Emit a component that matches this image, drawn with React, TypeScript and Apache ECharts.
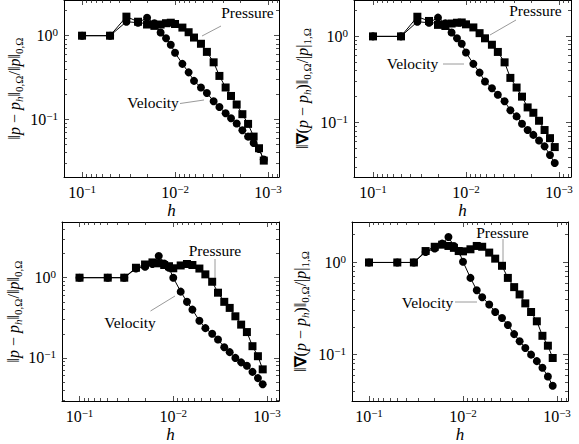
import React, { useEffect, useRef } from "react";
import * as echarts from "echarts";

// mesh size h (= 1/N)
const hValues = [0.1, 0.05, 0.03333, 0.025, 0.02, 0.01667, 0.01429, 0.0125, 0.01111, 0.01, 0.008333, 0.007143, 0.00625, 0.005263, 0.004545, 0.003846, 0.003333, 0.002857, 0.0025, 0.002174, 0.001887, 0.001639, 0.001429, 0.00125, 0.001111];

// top-left: ||p - p_h||_0 / ||p||_0
const tlVelocity = [1.0, 1.0, 1.47, 1.43, 1.64, 1.41, 1.09, 0.93, 0.78, 0.625, 0.46, 0.364, 0.288, 0.24, 0.206, 0.164, 0.14, 0.118, 0.103, 0.089, 0.074, 0.062, 0.052, 0.044, 0.033];
const tlPressure = [1.0, 1.0, 1.69, 1.47, 1.36, 1.31, 1.36, 1.41, 1.43, 1.38, 1.25, 1.1, 0.95, 0.8, 0.64, 0.48, 0.33, 0.24, 0.19, 0.15, 0.115, 0.088, 0.062, 0.045, 0.032];
// top-right: ||grad(p - p_h)||_0 / |p|_1
const trVelocity = [1.0, 1.0, 1.48, 1.44, 1.65, 1.42, 1.11, 0.95, 0.82, 0.65, 0.48, 0.38, 0.3, 0.25, 0.21, 0.177, 0.139, 0.118, 0.097, 0.082, 0.072, 0.062, 0.053, 0.042, 0.034];
const trPressure = [1.0, 1.0, 1.69, 1.51, 1.36, 1.32, 1.41, 1.44, 1.45, 1.38, 1.27, 1.09, 0.95, 0.8, 0.66, 0.5, 0.33, 0.255, 0.2, 0.15, 0.13, 0.105, 0.082, 0.066, 0.052];
// bottom-left
const blVelocity = [1.0, 1.0, 1.0, 1.3, 1.37, 1.48, 1.86, 1.5, 1.33, 1.0, 0.67, 0.5, 0.4, 0.29, 0.235, 0.2, 0.17, 0.136, 0.118, 0.1, 0.088, 0.08, 0.067, 0.056, 0.047];
const blPressure = [1.0, 1.0, 1.0, 1.33, 1.46, 1.55, 1.51, 1.44, 1.39, 1.31, 1.42, 1.48, 1.44, 1.3, 1.1, 0.89, 0.65, 0.5, 0.42, 0.33, 0.26, 0.21, 0.14, 0.105, 0.072];
// bottom-right
const brVelocity = [1.0, 1.0, 1.0, 1.3, 1.42, 1.6, 1.89, 1.51, 1.33, 1.02, 0.68, 0.5, 0.42, 0.35, 0.29, 0.25, 0.21, 0.167, 0.14, 0.118, 0.1, 0.085, 0.072, 0.058, 0.046];
const brPressure = [1.0, 1.0, 1.0, 1.33, 1.48, 1.56, 1.51, 1.44, 1.33, 1.32, 1.39, 1.51, 1.48, 1.28, 1.1, 0.92, 0.68, 0.54, 0.45, 0.36, 0.29, 0.23, 0.16, 0.125, 0.092];

const xTickExponents = [-1, -2, -3];
const yTickExponents = [-2, -1, 0];

const SERIF = "Liberation Serif";

const yNameL = "{n|‖}{i|p}{n| − }{i|p}{subi|h}{n|‖}{sub|0,Ω}{n|/‖}{i|p}{n|‖}{sub|0,Ω}";
const yNameR = "{n|‖}{b|∇}{n|(}{i|p}{n| − }{i|p}{subi|h}{n|)‖}{sub|0,Ω}{n|/|}{i|p}{n||}{sub|1,Ω}";

const panels = [
  { grid: { left: 64, top: -3, width: 215, height: 180 }, x: [-3.118, -0.806], y: [-1.691, 0.427], vel: tlVelocity, pre: tlPressure, name: yNameL, nameGap: 40 },
  { grid: { left: 354, top: -3, width: 217, height: 180 }, x: [-3.129, -0.796], y: [-1.631, 0.422], vel: trVelocity, pre: trPressure, name: yNameR, nameGap: 42 },
  { grid: { left: 62, top: 222, width: 217, height: 180 }, x: [-3.128, -0.813], y: [-1.537, 0.694], vel: blVelocity, pre: blPressure, name: yNameL, nameGap: 39 },
  { grid: { left: 352, top: 222, width: 216, height: 180 }, x: [-3.117, -0.819], y: [-1.503, 0.439], vel: brVelocity, pre: brPressure, name: yNameR, nameGap: 42 },
];

function minorTicks(lo: number, hi: number) {
  const out: number[] = [];
  for (let d = -5; d <= 2; d++) {
    for (let k = 2; k <= 9; k++) {
      const v = d + Math.log10(k);
      if (v > lo && v < hi) out.push(v);
    }
  }
  return out;
}

const tickLine = { color: "#222", width: 0.8 };
const labelRich = {
  b: { fontFamily: SERIF, fontSize: 16, color: "#000", lineHeight: 18 },
  s: { fontFamily: SERIF, fontSize: 11, color: "#000", lineHeight: 11, verticalAlign: "top" as const },
};
const powLabel = (v: number) => {
  const e = Math.round(v);
  return `{b|10}{s|${e < 0 ? "−" + -e : e}}`;
};
const nameRich = {
  n: { fontFamily: SERIF, fontSize: 16, color: "#000", lineHeight: 20 },
  i: { fontFamily: SERIF, fontSize: 16, fontStyle: "italic" as const, color: "#000", lineHeight: 20 },
  b: { fontFamily: SERIF, fontSize: 16, fontWeight: "bold" as const, color: "#000", lineHeight: 20 },
  sub: { fontFamily: SERIF, fontSize: 11, color: "#000", lineHeight: 11, verticalAlign: "bottom" as const },
  subi: { fontFamily: SERIF, fontSize: 11, fontStyle: "italic" as const, color: "#000", lineHeight: 11, verticalAlign: "bottom" as const },
};

function buildOption() {
  const grid: any[] = [];
  const xAxis: any[] = [];
  const yAxis: any[] = [];
  const series: any[] = [];
  panels.forEach((p, gi) => {
    grid.push({ ...p.grid, containLabel: false });
    const xMin = minorTicks(p.x[0], p.x[1]);
    const yMin = minorTicks(p.y[0], p.y[1]);
    const xBase = { type: "value", gridIndex: gi, min: p.x[0], max: p.x[1], inverse: true, splitLine: { show: false } };
    const yBase = { type: "value", gridIndex: gi, min: p.y[0], max: p.y[1], splitLine: { show: false } };
    xAxis.push({
      ...xBase, position: "bottom",
      axisLine: { show: true, onZero: false, lineStyle: { color: "#000", width: 1 } },
      axisTick: { show: true, inside: true, length: 5, customValues: xTickExponents, lineStyle: tickLine },
      axisLabel: { show: true, customValues: xTickExponents, formatter: powLabel, rich: labelRich, margin: 6, fontFamily: SERIF },
      name: "h", nameLocation: "middle", nameGap: 25,
      nameTextStyle: { fontFamily: SERIF, fontSize: 17, fontStyle: "italic", color: "#000" },
    });
    xAxis.push({
      ...xBase, position: "bottom",
      axisLine: { show: false, onZero: false },
      axisTick: { show: true, inside: true, length: 3, customValues: xMin, lineStyle: tickLine },
      axisLabel: { show: false },
    });
    xAxis.push({
      ...xBase, position: "top",
      axisLine: { show: true, onZero: false, lineStyle: { color: "#000", width: 1 } },
      axisTick: { show: true, inside: true, length: 5, customValues: xTickExponents, lineStyle: tickLine },
      axisLabel: { show: false },
    });
    xAxis.push({
      ...xBase, position: "top",
      axisLine: { show: false, onZero: false },
      axisTick: { show: true, inside: true, length: 3, customValues: xMin, lineStyle: tickLine },
      axisLabel: { show: false },
    });
    yAxis.push({
      ...yBase, position: "left",
      axisLine: { show: true, onZero: false, lineStyle: { color: "#000", width: 1 } },
      axisTick: { show: true, inside: true, length: 5, customValues: yTickExponents, lineStyle: tickLine },
      axisLabel: { show: true, customValues: yTickExponents, formatter: powLabel, rich: labelRich, margin: 6, fontFamily: SERIF },
      name: p.name, nameLocation: "middle", nameGap: p.nameGap, nameRotate: 90,
      nameTextStyle: { fontFamily: SERIF, rich: nameRich },
    });
    yAxis.push({
      ...yBase, position: "left",
      axisLine: { show: false, onZero: false },
      axisTick: { show: true, inside: true, length: 3, customValues: yMin, lineStyle: tickLine },
      axisLabel: { show: false },
    });
    yAxis.push({
      ...yBase, position: "right",
      axisLine: { show: true, onZero: false, lineStyle: { color: "#000", width: 1 } },
      axisTick: { show: true, inside: true, length: 5, customValues: yTickExponents, lineStyle: tickLine },
      axisLabel: { show: false },
    });
    yAxis.push({
      ...yBase, position: "right",
      axisLine: { show: false, onZero: false },
      axisTick: { show: true, inside: true, length: 3, customValues: yMin, lineStyle: tickLine },
      axisLabel: { show: false },
    });
    const mk = (vals: number[], symbol: string, size: number, name: string) => ({
      type: "line", name, xAxisIndex: gi * 4, yAxisIndex: gi * 4,
      data: hValues.map((h, k) => [Math.log10(h), Math.log10(vals[k])]),
      symbol, symbolSize: size, showSymbol: true,
      lineStyle: { color: "#000", width: 1 },
      itemStyle: { color: "#000" },
      clip: false,
    });
    series.push(mk(p.vel, "circle", 8, "Velocity"));
    series.push(mk(p.pre, "rect", 8, "Pressure"));
  });

  const txt = (x: number, y: number, s: string) => ({
    type: "text", x, y,
    style: { text: s, fontFamily: SERIF, fontSize: 15.5, fill: "#000", textAlign: "center", textVerticalAlign: "middle" },
  });
  const ln = (x1: number, y1: number, x2: number, y2: number) => ({
    type: "line", shape: { x1, y1, x2, y2 }, style: { stroke: "#9a9a9a", lineWidth: 1 },
  });
  const graphic = [
    txt(247.5, 12, "Pressure"), ln(202, 36, 221, 26),
    txt(153, 102, "Velocity"), ln(180, 103.5, 204, 100),
    txt(535.5, 10, "Pressure"), ln(490, 35, 516, 20),
    txt(412.5, 63.5, "Velocity"), ln(443, 64, 464, 64),
    txt(215, 250, "Pressure"), ln(215, 259, 215, 284),
    txt(130, 322, "Velocity"), ln(150.5, 311, 175, 296),
    txt(502.5, 232, "Pressure"), ln(503, 239, 503, 264),
    txt(427.5, 302, "Velocity"), ln(455, 302, 477, 302),
  ];

  return { animation: false, backgroundColor: "#fff", textStyle: { fontFamily: SERIF }, grid, xAxis, yAxis, series, graphic };
}

export default function App() {
  const ref = useRef<HTMLDivElement>(null);
  useEffect(() => {
    if (!ref.current) return;
    const chart = echarts.init(ref.current, undefined, { renderer: "svg" });
    chart.setOption(buildOption() as any);
    return () => chart.dispose();
  }, []);
  return <div ref={ref} style={{ position: "absolute", left: 0, top: 0, width: 579, height: 444 }} />;
}
